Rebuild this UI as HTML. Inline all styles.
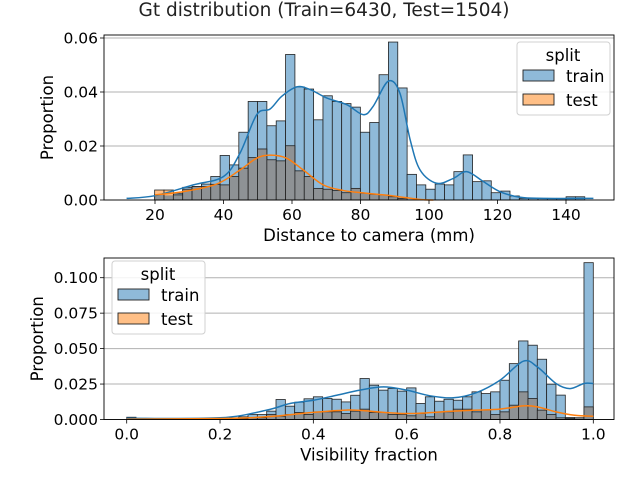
<!DOCTYPE html>
<html><head><meta charset="utf-8"><style>
body{margin:0;background:#fff;}
svg{display:block;font-family:"DejaVu Sans","Liberation Sans",sans-serif;}
</style></head><body>
<svg id="chart" width="640" height="493" viewBox="0 0 640 493">
<text x="324" y="16" text-anchor="middle" font-size="18.5" fill="#222">Gt distribution (Train=6430, Test=1504)</text>
</svg>
<script>
// ---- Top panel data (distance to camera, mm) ----
const distBinStart = 19.9;
const distBinWidth = 2.73;
const distTrain = [.0019,.0016,.0025,.0047,.005,.0059,.0087,.0165,.013,.0251,.0365,.0365,.0275,.0293,.0539,.0419,.0411,.0297,.0386,.0365,.0357,.0344,.0251,.0287,.0464,.0585,.0415,.0095,.0056,.004,.0059,.0056,.0105,.0167,.0068,.0071,.0027,.0033,.0015,.0006,.0006,.0006,.0006,.0006,.0012,.0012];
const distTest = [.0037,.0037,.0019,.004,.005,.005,.0058,.0056,.0087,.0118,.0157,.0189,.0149,.0145,.0201,.0108,.0087,.0043,.004,.0035,.0027,.0043,.0025,.0021,.0019,.0012,.0006,0,0,0,0,0,0,0,0,0,0,0,0,0,0,0,0,0,0,0];
const distKdeTrainX = [11.7,20,31.2,40,44.8,49.7,53.6,57,61.4,65.3,70.1,76,80.8,83.7,88.1,91.5,94.5,97.4,102.2,107.1,111,115.9,120.7,126.6,133.4,148];
const distKdeTrainY = [.0006,.0016,.0056,.0087,.0173,.0316,.0337,.0384,.0419,.0409,.0378,.0353,.0316,.0347,.044,.0396,.0223,.0111,.0062,.008,.0105,.0068,.0031,.001,.0006,.0006];
const distKdeTestX = [20,28.3,38,44.8,49.7,53.6,58.4,63.3,69.1,75,81.8,89.6,97.4,101.3];
const distKdeTestY = [.0019,.0031,.0059,.0111,.0155,.0166,.0155,.0111,.0056,.0035,.0025,.0015,.0002,0];
const distXTicks = [20,40,60,80,100,120,140];
const distYTicks = [0,0.02,0.04,0.06];
const distYTickLabels = ["0.00","0.02","0.04","0.06"];

// ---- Bottom panel data (visibility fraction) ----
const visBinStart = 0;
const visBinWidth = 0.02;
const visTrain = [.0016,.0007,.0007,.0007,.0007,.0007,.0007,.0007,.0007,.0007,.0007,.0012,.0019,.0035,.0035,.0059,.0141,.0094,.0122,.0146,.016,.0148,.0143,.0124,.0171,.0289,.0242,.0207,.0219,.02,.0223,.0113,.016,.0129,.0143,.0136,.016,.0195,.0183,.0195,.0277,.0394,.0554,.0524,.0425,.0249,.0172,.0014,.0012,.1106];
const visTest = [.0003,.0002,.0002,.0002,.0002,.0002,.0002,.0002,.0002,.0002,.0002,.0003,.0005,.0012,.0012,.0035,.0023,.0035,.005,.0035,.0054,.0054,.0054,.0042,.0059,.0073,.005,.005,.0035,.0035,.0026,.0042,.0019,.0054,.0054,.0073,.0073,.0054,.0066,.0035,.0054,.0101,.0195,.0148,.0066,.0035,.0012,.0007,.0012,.0089];
const visKdeTrainX = [0,0.2,0.3,0.35,0.4,0.45,0.5,0.55,0.6,0.65,0.7,0.75,0.8,0.85,0.88,0.92,0.95,0.98,1.0];
const visKdeTrainY = [.0009,.0012,.0066,.0113,.0136,.0171,.0207,.023,.0207,.0167,.0153,.019,.0277,.0411,.0371,.0254,.0218,.0254,.0254];
const visKdeTestX = [0,0.2,0.3,0.4,0.47,0.5,0.6,0.7,0.75,0.8,0.85,0.88,0.92,0.96,1.0];
const visKdeTestY = [.0002,.0007,.0019,.005,.0066,.0064,.0042,.0059,.0066,.0073,.0096,.0089,.0054,.003,.0023];
const visXTicks = [0,0.2,0.4,0.6,0.8,1.0];
const visXTickLabels = ["0.0","0.2","0.4","0.6","0.8","1.0"];
const visYTicks = [0,0.025,0.05,0.075,0.1];
const visYTickLabels = ["0.000","0.025","0.050","0.075","0.100"];

const NS = "http://www.w3.org/2000/svg";
const svg = document.getElementById("chart");
function mk(tag, attrs, parent){
  const e = document.createElementNS(NS, tag);
  for (const k in attrs) e.setAttribute(k, attrs[k]);
  (parent||svg).appendChild(e);
  return e;
}
function smoothPath(xs, ys, sx, sy){
  const p = xs.map((x,i)=>[sx(x), sy(ys[i])]);
  let d = "M"+p[0][0]+","+p[0][1];
  for (let i=0;i<p.length-1;i++){
    const p0=p[i-1]||p[i], p1=p[i], p2=p[i+1], p3=p[i+2]||p2;
    const c1=[p1[0]+(p2[0]-p0[0])/6, p1[1]+(p2[1]-p0[1])/6];
    const c2=[p2[0]-(p3[0]-p1[0])/6, p2[1]-(p3[1]-p1[1])/6];
    d+=" C"+c1+" "+c2+" "+p2;
  }
  return d;
}
const TICK_FS = 15.5, LABEL_FS = 16.5;

function panel(cfg){
  const g = mk("g", {});
  
  
  const sx = v => cfg.L + (v - cfg.xmin)/(cfg.xmax - cfg.xmin)*(cfg.R - cfg.L);
  const sy = v => cfg.B - (v - cfg.ymin)/(cfg.ymax - cfg.ymin)*(cfg.B - cfg.T);
  cfg.yTicks.forEach((t,i)=>{
    const y = sy(t);
    const gl = mk("line",{x1:cfg.L,x2:cfg.R,y1:y,y2:y,stroke:"#b0b0b0","stroke-width":1},g);
    
    
    const tk = mk("line",{x1:cfg.L-4,x2:cfg.L,y1:y,y2:y,stroke:"#000","stroke-width":0.8},g);
    
    
    const tl = mk("text",{x:cfg.L-6,y:y+5.5,"text-anchor":"end","font-size":TICK_FS,fill:"#000"},g);
    tl.textContent = cfg.yTickLabels[i];
    
    
  });
  cfg.train.forEach((v,i)=>{
    if (v<=0) return;
    const x0 = sx(cfg.binStart + i*cfg.binWidth), x1 = sx(cfg.binStart + (i+1)*cfg.binWidth);
    const r = mk("rect",{x:x0,y:sy(v),width:x1-x0,height:sy(0)-sy(v),fill:"#8fbad9",stroke:"#222","stroke-width":0.8},g);
    
    
  });
  cfg.test.forEach((v,i)=>{
    if (v<=0) return;
    const tv = cfg.train[i] || 0;
    const x0 = sx(cfg.binStart + i*cfg.binWidth), x1 = sx(cfg.binStart + (i+1)*cfg.binWidth);
    const ov = Math.min(v, tv);
    if (v > tv){
      const ex = mk("rect",{x:x0,y:sy(v),width:x1-x0,height:sy(tv)-sy(v),fill:"#ffbf86"},g);
      
      
    }
    if (ov > 0){
      const o = mk("rect",{x:x0,y:sy(ov),width:x1-x0,height:sy(0)-sy(ov),fill:"#8e9295"},g);
      
      
    }
    const r = mk("rect",{x:x0,y:sy(v),width:x1-x0,height:sy(0)-sy(v),fill:"none",stroke:"#222","stroke-width":0.8},g);
    
    
  });
  const k1 = mk("path",{d:smoothPath(cfg.kTrX,cfg.kTrY,sx,sy),fill:"none",stroke:"#1f77b4","stroke-width":1.5},g);
  
  
  const k2 = mk("path",{d:smoothPath(cfg.kTeX,cfg.kTeY,sx,sy),fill:"none",stroke:"#ff7f0e","stroke-width":1.5},g);
  
  
  const fr = mk("rect",{x:cfg.L,y:cfg.T,width:cfg.R-cfg.L,height:cfg.B-cfg.T,fill:"none",stroke:"#000","stroke-width":0.9},g);
  
  
  cfg.xTicks.forEach((t,i)=>{
    const x = sx(t);
    const tk = mk("line",{x1:x,x2:x,y1:cfg.B,y2:cfg.B+4,stroke:"#000","stroke-width":0.8},g);
    
    
    const tl = mk("text",{x:x,y:cfg.B+20,"text-anchor":"middle","font-size":TICK_FS,fill:"#000"},g);
    tl.textContent = cfg.xTickLabels[i];
    
    
  });
  const xl = mk("text",{x:(cfg.L+cfg.R)/2+10,y:cfg.B+41,"text-anchor":"middle","font-size":LABEL_FS,fill:"#000"},g);
  xl.textContent = cfg.xLabel;
  
  
  const yl = mk("text",{x:0,y:0,"text-anchor":"middle","font-size":LABEL_FS,fill:"#000",transform:"translate("+cfg.yLabelX+","+((cfg.T+cfg.B)/2)+") rotate(-90)"},g);
  yl.textContent = "Proportion";
  
  
  const lg = mk("g",{},g);
  
  
  mk("rect",{x:cfg.lgX,y:cfg.lgY,width:93,height:73,rx:3,fill:"#fff","fill-opacity":0.85,stroke:"#d0d0d0"},lg);
  const lt = mk("text",{x:cfg.lgX+46,y:cfg.lgY+19,"text-anchor":"middle","font-size":LABEL_FS,fill:"#000"},lg);
  lt.textContent = "split";
  
  
  [["train","#8fbad9",0],["test","#ffbf86",1]].forEach(([n,c,i])=>{
    const y = cfg.lgY+35+i*24;
    const sw = mk("rect",{x:cfg.lgX+6,y:y-7,width:31,height:11,fill:c,stroke:"#222","stroke-width":0.9},lg);
    
    
    const tx = mk("text",{x:cfg.lgX+49,y:y+5,"font-size":LABEL_FS,fill:"#000"},lg);
    tx.textContent = n;
    
    
  });
}

panel({name:"distance-panel",L:104,R:614,T:35,B:200,xmin:20-(155-104)/34.25*10,xmax:20+(614-155)/34.25*10,ymin:0,ymax:0.06*(165/162),
  binStart:distBinStart,binWidth:distBinWidth,train:distTrain,test:distTest,
  kTrX:distKdeTrainX,kTrY:distKdeTrainY,kTeX:distKdeTestX,kTeY:distKdeTestY,
  xTicks:distXTicks,xTickLabels:distXTicks.map(String),yTicks:distYTicks,yTickLabels:distYTickLabels,
  xLabel:"Distance to camera (mm)",yLabelX:53,lgX:517,lgY:42});
panel({name:"visibility-panel",L:104,R:614,T:258,B:419.5,xmin:-(126.7-104)/466.6,xmax:(614-126.7)/466.6,ymin:0,ymax:0.1*(161.5/141.8),
  binStart:visBinStart,binWidth:visBinWidth,train:visTrain,test:visTest,
  kTrX:visKdeTrainX,kTrY:visKdeTrainY,kTeX:visKdeTestX,kTeY:visKdeTestY,
  xTicks:visXTicks,xTickLabels:visXTickLabels,yTicks:visYTicks,yTickLabels:visYTickLabels,
  xLabel:"Visibility fraction",yLabelX:43,lgX:112,lgY:261});
</script>
</body></html>
